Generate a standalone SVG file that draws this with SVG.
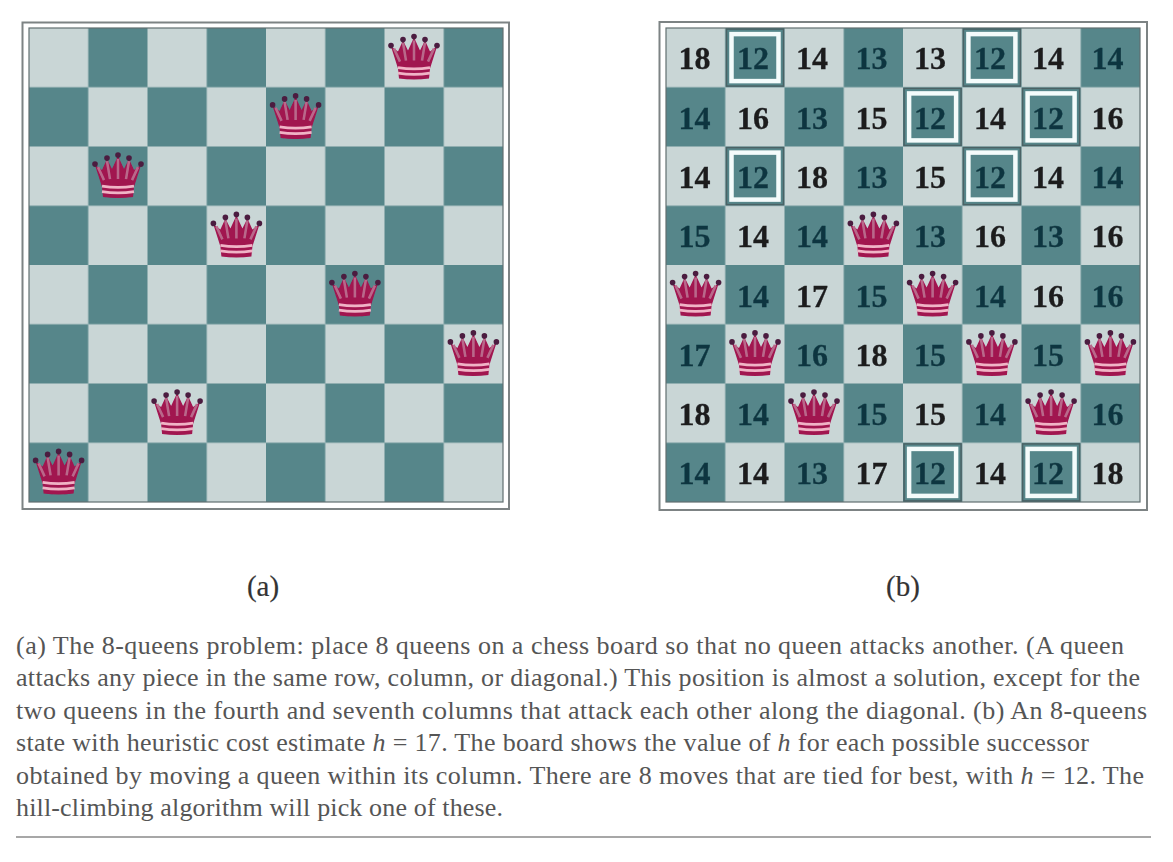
<svg xmlns="http://www.w3.org/2000/svg" xmlns:xlink="http://www.w3.org/1999/xlink" width="1173" height="862" viewBox="0 0 1173 862">
<style>
.frame{fill:#fff;stroke:#7d8384;stroke-width:2}
.edge{fill:none;stroke:#626f70;stroke-width:1.2}
.num{font:bold 32px "Liberation Serif",serif;text-anchor:middle;fill:#1c1c1e;stroke:#1c1c1e;stroke-width:.3}
.d{fill:#0e3640;stroke:#0e3640}
.cap{font:29px "Liberation Serif",serif;text-anchor:middle;fill:#333;stroke:#333;stroke-width:.2}
.body{font:26px "Liberation Serif",serif;fill:#555}
.i{font-style:italic}
.hl{fill:none;stroke:#f4fbfb;stroke-width:4.5}
.hlo{fill:none;stroke:#4a6265;stroke-width:1.5}
</style>
<defs>
<filter id="soft" x="-5%" y="-5%" width="110%" height="110%"><feGaussianBlur stdDeviation="0.45"/></filter>
<pattern id="chk" patternUnits="userSpaceOnUse" width="118.5" height="118.5">
<rect width="118.5" height="118.5" fill="#c9d6d6"/>
<rect x="59.25" width="59.25" height="59.25" fill="#56868a"/>
<rect y="59.25" width="59.25" height="59.25" fill="#56868a"/>
</pattern>
<g id="queen">
<path d="M-15 21L-16 11L-23 -11L-16 -6L-11 -17L-6 -7L0 -20L6 -7L11 -17L16 -6L23 -11L16 11L15 21Q0 23 -15 21Z" fill="#a1134f"/>
<path d="M-20 -9L-14 4M-11 -15L-8 3M0 -17V3M11 -15L8 3M20 -9L14 4" stroke="#b9688a" stroke-width="2.6" fill="none"/>
<path d="M-16 10Q0 12.5 16 10M-16 15.5Q0 18 16 15.5" stroke="#f0b4c6" stroke-width="2.6" fill="none"/>
<g fill="#4b1d3f"><circle cx="-23" cy="-12" r="2.8"/><circle cx="-11" cy="-18" r="2.8"/><circle cx="0" cy="-21" r="2.8"/><circle cx="11" cy="-18" r="2.8"/><circle cx="23" cy="-12" r="2.8"/></g>
</g>
<g id="hb"><rect x="-23.5" y="-23.5" width="47" height="47" class="hl"/><rect x="-28.5" y="-28.5" width="57" height="57" class="hlo"/></g>
</defs>

<g id="board-a">
<rect class="frame" x="22.5" y="22.5" width="486.5" height="486.5"/>
<g transform="translate(29 28)"><rect width="474" height="474" fill="url(#chk)"/><rect class="edge" width="474" height="474"/></g>
<g filter="url(#soft)">
<use xlink:href="#queen" href="#queen" x="414" y="57.6"/>
<use xlink:href="#queen" href="#queen" x="295.6" y="116.9"/>
<use xlink:href="#queen" href="#queen" x="118" y="176.1"/>
<use xlink:href="#queen" href="#queen" x="236.4" y="235.4"/>
<use xlink:href="#queen" href="#queen" x="354.9" y="294.6"/>
<use xlink:href="#queen" href="#queen" x="473.4" y="353.9"/>
<use xlink:href="#queen" href="#queen" x="177.1" y="413.1"/>
<use xlink:href="#queen" href="#queen" x="58.6" y="472.4"/>
</g>
</g>

<g id="board-b">
<rect class="frame" x="659.5" y="22" width="487.5" height="488"/>
<g transform="translate(666 28)"><rect width="474" height="474" fill="url(#chk)"/><rect class="edge" width="474" height="474"/></g>
<g id="best-moves">
<use xlink:href="#hb" href="#hb" x="755" y="57.6"/><use xlink:href="#hb" href="#hb" x="991.9" y="57.6"/>
<use xlink:href="#hb" href="#hb" x="932.6" y="116.9"/><use xlink:href="#hb" href="#hb" x="1051.1" y="116.9"/>
<use xlink:href="#hb" href="#hb" x="755" y="176.1"/><use xlink:href="#hb" href="#hb" x="991.9" y="176.1"/>
<use xlink:href="#hb" href="#hb" x="932.6" y="472.4"/><use xlink:href="#hb" href="#hb" x="1051.1" y="472.4"/>
</g>
<g id="values" filter="url(#soft)">
<text class="num" y="69"><tspan x="694.6">18</tspan><tspan x="753" class="d">12</tspan><tspan x="812">14</tspan><tspan x="871.4" class="d">13</tspan><tspan x="930">13</tspan><tspan x="989.9" class="d">12</tspan><tspan x="1048.1">14</tspan><tspan x="1107.4" class="d">14</tspan></text>
<text class="num" y="128.5"><tspan x="694.6" class="d">14</tspan><tspan x="753">16</tspan><tspan x="812" class="d">13</tspan><tspan x="871.4">15</tspan><tspan x="930" class="d">12</tspan><tspan x="989.9">14</tspan><tspan x="1048.1" class="d">12</tspan><tspan x="1107.4">16</tspan></text>
<text class="num" y="188"><tspan x="694.6">14</tspan><tspan x="753" class="d">12</tspan><tspan x="812">18</tspan><tspan x="871.4" class="d">13</tspan><tspan x="930">15</tspan><tspan x="989.9" class="d">12</tspan><tspan x="1048.1">14</tspan><tspan x="1107.4" class="d">14</tspan></text>
<text class="num" y="247"><tspan x="694.6" class="d">15</tspan><tspan x="753">14</tspan><tspan x="812" class="d">14</tspan><tspan x="930" class="d">13</tspan><tspan x="989.9">16</tspan><tspan x="1048.1" class="d">13</tspan><tspan x="1107.4">16</tspan></text>
<text class="num" y="306.5"><tspan x="753" class="d">14</tspan><tspan x="812">17</tspan><tspan x="871.4" class="d">15</tspan><tspan x="989.9" class="d">14</tspan><tspan x="1048.1">16</tspan><tspan x="1107.4" class="d">16</tspan></text>
<text class="num" y="365.5"><tspan x="694.6" class="d">17</tspan><tspan x="812" class="d">16</tspan><tspan x="871.4">18</tspan><tspan x="930" class="d">15</tspan><tspan x="1048.1" class="d">15</tspan></text>
<text class="num" y="425"><tspan x="694.6">18</tspan><tspan x="753" class="d">14</tspan><tspan x="871.4" class="d">15</tspan><tspan x="930">15</tspan><tspan x="989.9" class="d">14</tspan><tspan x="1107.4" class="d">16</tspan></text>
<text class="num" y="484"><tspan x="694.6" class="d">14</tspan><tspan x="753">14</tspan><tspan x="812" class="d">13</tspan><tspan x="871.4">17</tspan><tspan x="930" class="d">12</tspan><tspan x="989.9">14</tspan><tspan x="1048.1" class="d">12</tspan><tspan x="1107.4">18</tspan></text>
</g>
<g filter="url(#soft)">
<use xlink:href="#queen" href="#queen" x="873.4" y="235.4"/>
<use xlink:href="#queen" href="#queen" x="695.6" y="294.6"/>
<use xlink:href="#queen" href="#queen" x="932.6" y="294.6"/>
<use xlink:href="#queen" href="#queen" x="755" y="353.9"/>
<use xlink:href="#queen" href="#queen" x="991.9" y="353.9"/>
<use xlink:href="#queen" href="#queen" x="1110.4" y="353.9"/>
<use xlink:href="#queen" href="#queen" x="814" y="413.1"/>
<use xlink:href="#queen" href="#queen" x="1051.1" y="413.1"/>
</g>
</g>

<text class="cap" x="263" y="596">(a)</text>
<text class="cap" x="903" y="596">(b)</text>

<g id="caption">
<text class="body" x="16" y="654" textLength="1108">(a) The 8-queens problem: place 8 queens on a chess board so that no queen attacks another. (A queen</text>
<text class="body" x="16" y="686" textLength="1124">attacks any piece in the same row, column, or diagonal.) This position is almost a solution, except for the</text>
<text class="body" x="16" y="719" textLength="1131">two queens in the fourth and seventh columns that attack each other along the diagonal. (b) An 8-queens</text>
<text class="body" x="16" y="751" textLength="1073">state with heuristic cost estimate <tspan class="i">h</tspan> = 17. The board shows the value of <tspan class="i">h</tspan> for each possible successor</text>
<text class="body" x="16" y="784" textLength="1128">obtained by moving a queen within its column. There are 8 moves that are tied for best, with <tspan class="i">h</tspan> = 12. The</text>
<text class="body" x="16" y="816" textLength="487">hill-climbing algorithm will pick one of these.</text>
<line x1="16" y1="837" x2="1151" y2="837" stroke="#8a8a8a" stroke-width="1.5"/>
</g>
</svg>
